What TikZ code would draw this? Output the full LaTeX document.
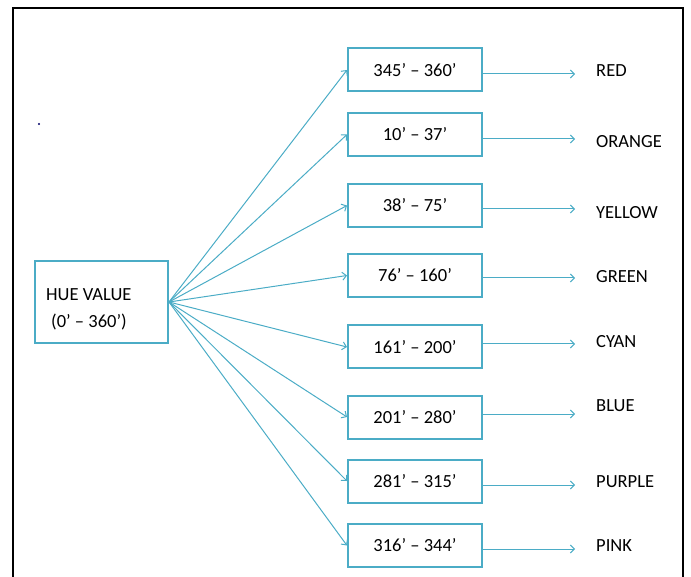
\documentclass[tikz,border=0pt]{standalone}
\usepackage{fontspec}
\setmainfont{Carlito}
\usepackage{tikz}
\usetikzlibrary{positioning,arrows.meta}
\definecolor{hueblue}{RGB}{75,172,198}

\begin{document}
\begin{tikzpicture}[x=1pt,y=-1pt,
			rangebox/.style={draw=hueblue,line width=2pt,minimum width=134pt,minimum height=43pt,
					font=\fontsize{18.5}{22}\selectfont},
			huebox/.style={draw=hueblue,line width=2pt,minimum width=133pt,minimum height=82pt},
			colourname/.style={anchor=west,inner sep=0pt,font=\fontsize{18.5}{22}\selectfont},
			fan/.style={draw=hueblue,line width=1pt,-{Straight Barb[length=4pt,width=8pt]}},
			tocolour/.style={draw=hueblue,line width=1pt,-{Straight Barb[length=4pt,width=8pt]}}]
		\useasboundingbox (0,0) rectangle (691,577);
		% outer frame, open at the bottom
		\draw[line width=2.3pt] (13,577) -- (13,8) -- (683,8) -- (683,577);
		\fill[black!60!blue] (39,124) circle (1.1pt);

		% hue value box
		\node[huebox] (hue) at (101.5,302) {};
		\node[anchor=west,align=left,inner sep=0pt,font=\fontsize{18.5}{27}\selectfont] (huetext) at (46,309)
			{HUE VALUE\\\hspace*{5pt}(0’ – 360’)};

		% hue ranges
		\node[rangebox] (r1) at (415,70) {345’ – 360’};
		\node[rangebox] (r2) at (415,134.5) {10’ – 37’};
		\node[rangebox] (r3) at (415,205.5) {38’ – 75’};
		\node[rangebox] (r4) at (415,275.5) {76’ – 160’};
		\node[rangebox] (r5) at (415,347) {161’ – 200’};
		\node[rangebox] (r6) at (415,417) {201’ – 280’};
		\node[rangebox] (r7) at (415,481) {281’ – 315’};
		\node[rangebox] (r8) at (415,545.5) {316’ – 344’};

		% colour names
		\node[colourname] (red) at (596,71) {RED};
		\node[colourname] (orange) at (596,142) {ORANGE};
		\node[colourname] (yellow) at (596,213) {YELLOW};
		\node[colourname] (green) at (596,277) {GREEN};
		\node[colourname] (cyan) at (596,342) {CYAN};
		\node[colourname] (blue) at (596,406) {BLUE};
		\node[colourname] (purple) at (596,482) {PURPLE};
		\node[colourname] (pink) at (596,546) {PINK};

		% arrow tips in front of the names
		\coordinate (t1) at (575,74);
		\coordinate (t2) at (575,139);
		\coordinate (t3) at (575,209);
		\coordinate (t4) at (575,278);
		\coordinate (t5) at (575,344);
		\coordinate (t6) at (575,414);
		\coordinate (t7) at (575,485);
		\coordinate (t8) at (575,549);

		% fan out of the hue box
		\draw[fan] (hue.east) -- (r1.west);
		\draw[fan] (hue.east) -- (r2.west);
		\draw[fan] (hue.east) -- (r3.west);
		\draw[fan] (hue.east) -- (r4.west);
		\draw[fan] (hue.east) -- (r5.west);
		\draw[fan] (hue.east) -- (r6.west);
		\draw[fan] (hue.east) -- (r7.west);
		\draw[fan] (hue.east) -- (r8.west);

		% ranges to colours
		\draw[tocolour] (r1.east |- t1) -- (t1);
		\draw[tocolour] (r2.east |- t2) -- (t2);
		\draw[tocolour] (r3.east |- t3) -- (t3);
		\draw[tocolour] (r4.east |- t4) -- (t4);
		\draw[tocolour] (r5.east |- t5) -- (t5);
		\draw[tocolour] (r6.east |- t6) -- (t6);
		\draw[tocolour] (r7.east |- t7) -- (t7);
		\draw[tocolour] (r8.east |- t8) -- (t8);
\end{tikzpicture}
\end{document}
